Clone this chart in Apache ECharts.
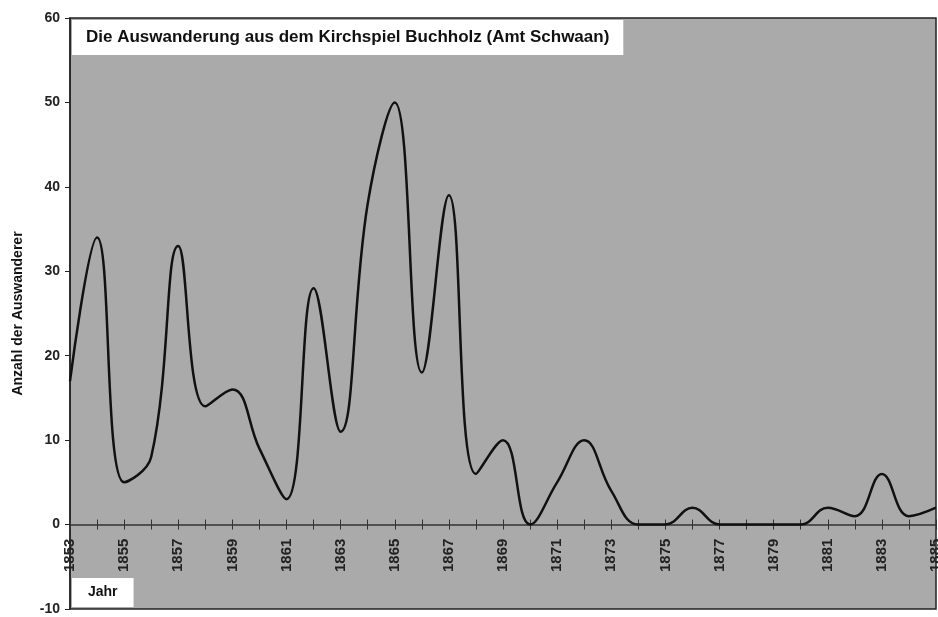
<!DOCTYPE html>
<html style="height: 100%; width:100%">
<head>
    <meta charset="utf-8">
    <script type="text/javascript" src="https://cdn.jsdelivr.net/npm/echarts@6/dist/echarts.min.js"></script>
</head>
<body style="height: 100%; width: 100%; margin: 0; background:#fff">
<div id="container" style="height: 617px;width:938px"></div>
<script type="text/javascript">
    var years = ["1853","1854","1855","1856","1857","1858","1859","1860","1861","1862","1863",
                 "1864","1865","1866","1867","1868","1869","1870","1871","1872","1873","1874",
                 "1875","1876","1877","1878","1879","1880","1881","1882","1883","1884","1885"];
    var auswanderer = [17,34,5,8,33,14,16,9,3,28,11,
                       38,50,18,39,6,10,0,5,10,4,0,
                       0,2,0,0,0,0,2,1,6,1,2];
    var yTicks = {min: -10, max: 60, interval: 10};

    var titleText = "Die Auswanderung aus dem Kirchspiel Buchholz (Amt Schwaan)";
    var yName = "Anzahl der Auswanderer";
    var xName = "Jahr";

    var dom = document.getElementById("container");
    var myChart = echarts.init(dom);
    var fontFam = "Liberation Sans, Arial, sans-serif";
    var gridBox = {left: 70, right: 2, top: 18, bottom: 8, outerBoundsMode: "none", containLabel: false};

    var option = {
        animation: false,
        backgroundColor: "#ffffff",
        title: [{
            text: titleText,
            left: 72,
            top: 20,
            backgroundColor: "#ffffff",
            padding: [9, 14, 9, 14],
            textStyle: {fontFamily: fontFam, fontSize: 17, fontWeight: "bold", color: "#111"}
        }, {
            text: xName,
            left: 72,
            top: 578,
            backgroundColor: "#ffffff",
            padding: [7, 16, 8, 16],
            textStyle: {fontFamily: fontFam, fontSize: 14, fontWeight: "bold", color: "#111"}
        }],
        grid: [
            Object.assign({show: true, backgroundColor: "#aaaaaa", borderColor: "#222", borderWidth: 1.5}, gridBox),
            Object.assign({show: false}, gridBox)
        ],
        xAxis: [{
            // year labels inside the plot, above the bottom frame
            type: "category",
            gridIndex: 0,
            data: years,
            boundaryGap: false,
            position: "bottom",
            axisLine: {show: false, onZero: false},
            axisTick: {show: false},
            axisLabel: {
                inside: true,
                interval: 1,
                rotate: 90,
                margin: 37,
                fontFamily: fontFam,
                fontSize: 15,
                fontWeight: "bold",
                color: "#222"
            },
            splitLine: {show: false}
        }, {
            // zero line, ticks below
            type: "category",
            gridIndex: 0,
            data: years,
            boundaryGap: false,
            position: "bottom",
            axisLine: {show: true, onZero: true, lineStyle: {color: "#333", width: 1.5}},
            axisTick: {show: true, interval: 0, length: 5, lineStyle: {color: "#333"}},
            axisLabel: {show: false},
            splitLine: {show: false}
        }, {
            // ticks above the zero line (second, invisible grid)
            type: "category",
            gridIndex: 1,
            data: years,
            boundaryGap: false,
            position: "bottom",
            axisLine: {show: false, onZero: true},
            axisTick: {show: true, inside: true, interval: 0, length: 5, lineStyle: {color: "#333"}},
            axisLabel: {show: false},
            splitLine: {show: false}
        }],
        yAxis: [{
            type: "value",
            gridIndex: 0,
            min: yTicks.min,
            max: yTicks.max,
            interval: yTicks.interval,
            name: yName,
            nameLocation: "middle",
            nameRotate: 90,
            nameGap: 45,
            nameTextStyle: {fontFamily: fontFam, fontSize: 14, fontWeight: "bold", color: "#111"},
            axisLine: {show: true, lineStyle: {color: "#222", width: 1.5}},
            axisTick: {show: true, length: 5, lineStyle: {color: "#222"}},
            axisLabel: {fontFamily: fontFam, fontSize: 14, fontWeight: "bold", color: "#222", margin: 10},
            splitLine: {show: false}
        }, {
            type: "value",
            gridIndex: 1,
            min: yTicks.min,
            max: yTicks.max,
            interval: yTicks.interval,
            show: false
        }],
        series: [{
            type: "line",
            name: yName,
            data: auswanderer,
            xAxisIndex: 0,
            yAxisIndex: 0,
            smooth: 0.42,
            showSymbol: false,
            lineStyle: {color: "#111", width: 2.5}
        }]
    };
    myChart.setOption(option, true);
</script>
</body>
</html>
